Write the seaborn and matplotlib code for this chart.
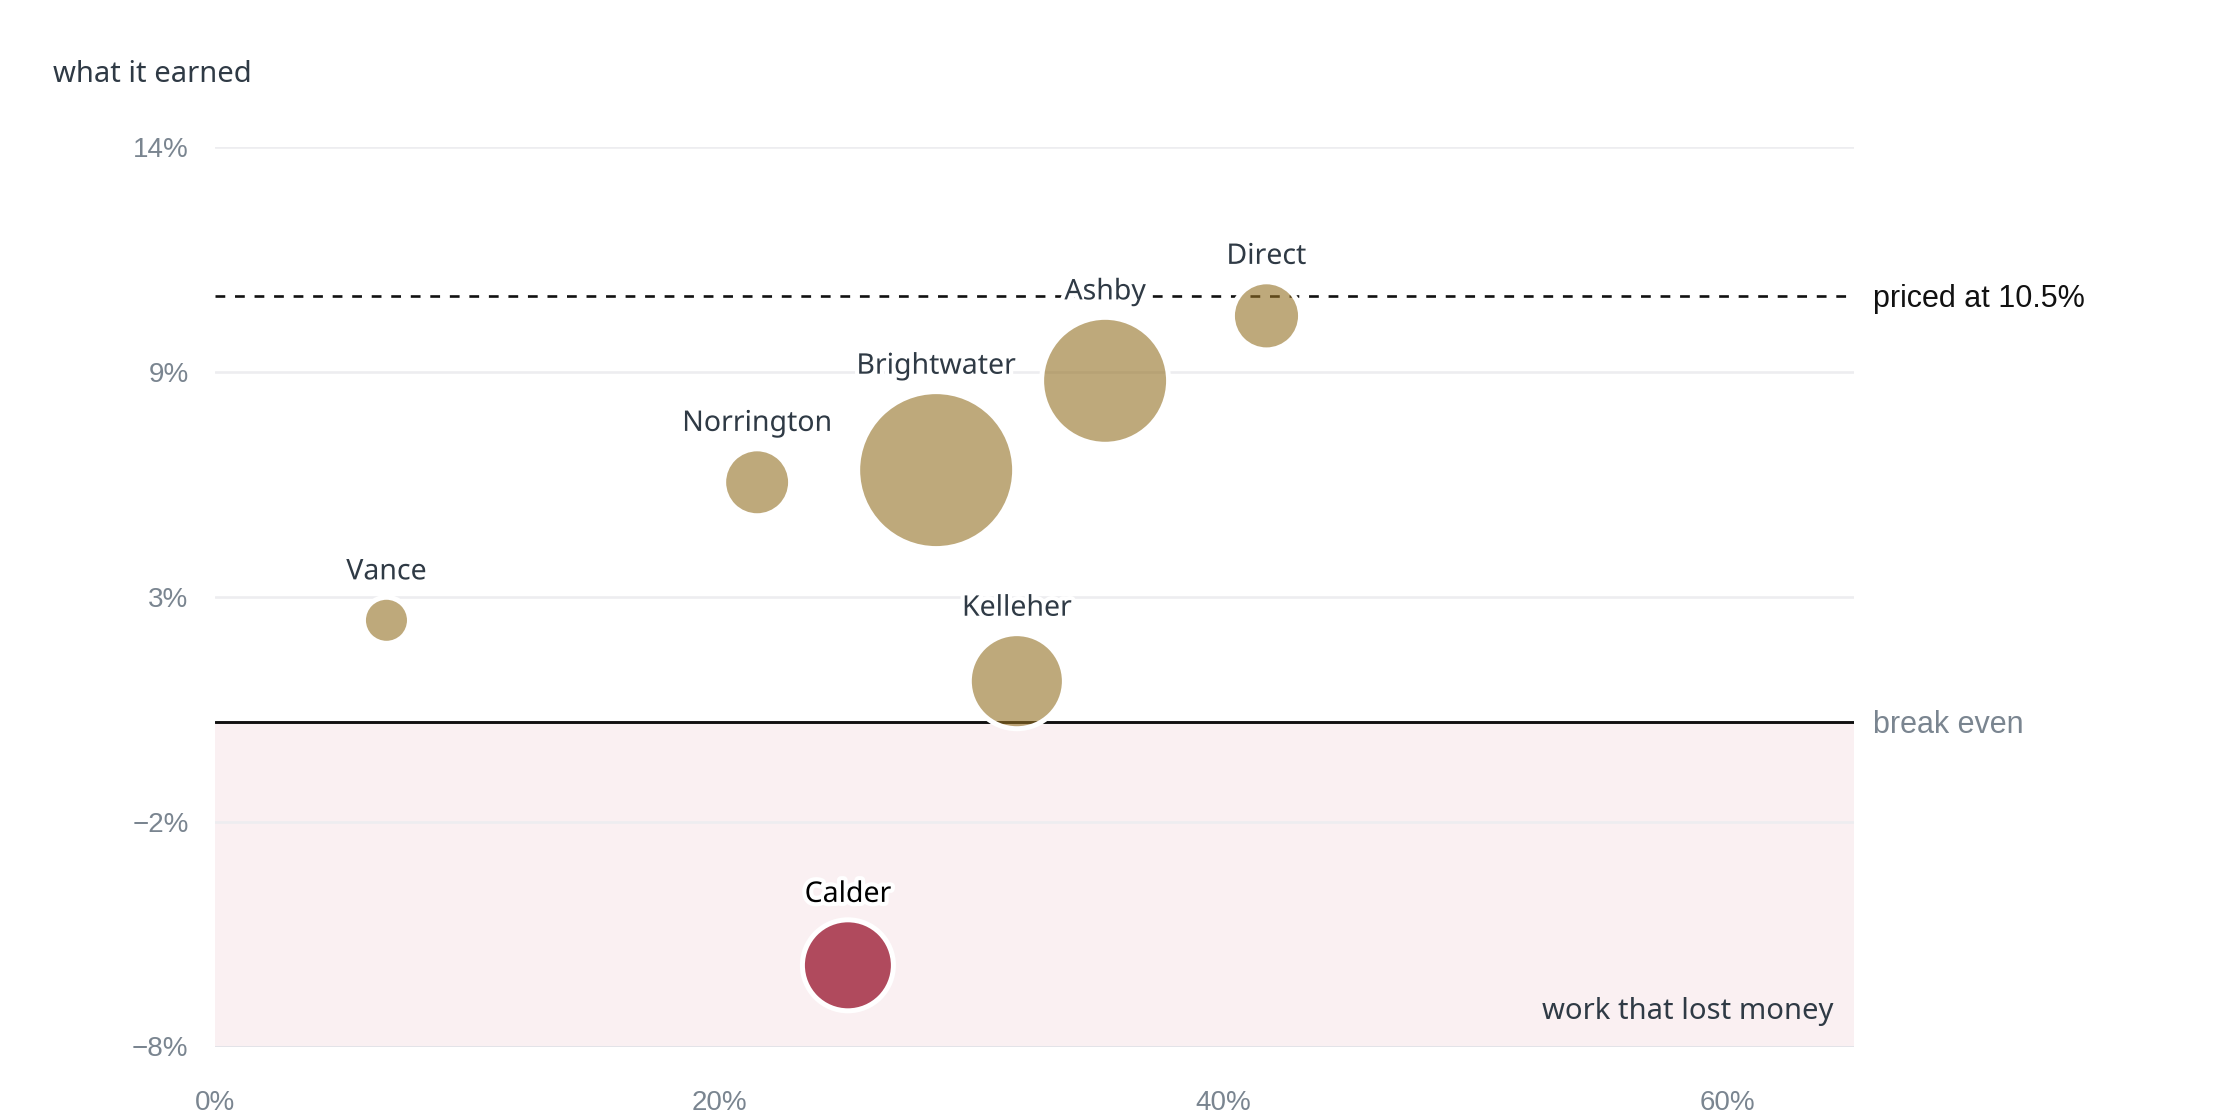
import numpy as np
import pandas as pd
import matplotlib
matplotlib.use("Agg")
import matplotlib.pyplot as plt
import matplotlib.transforms as mtransforms
from matplotlib import patheffects as pe
import seaborn as sns

# ---- data ----
firms = ["Vance", "Norrington", "Brightwater", "Ashby", "Direct", "Kelleher", "Calder"]
share_pct = [6.8, 21.5, 28.6, 35.3, 41.7, 31.8, 25.1]      # x: share of work
earned_pct = [2.5, 5.9, 6.2, 8.4, 10.0, 1.0, -6.0]          # y: what it earned
volume = [5.3, 11.2, 61.6, 40.3, 11.6, 22.6, 20.7]          # bubble area
priced_at = 10.5
break_even = 0.0

x_ticks = [0, 20, 40, 60]
x_tick_labels = ["0%", "20%", "40%", "60%"]
y_ticks = [-8, -2.46, 3.08, 8.62, 14.16]
y_tick_labels = ["\u22128%", "\u22122%", "3%", "9%", "14%"]

df = pd.DataFrame({"firm": firms, "share": share_pct,
                   "earned": earned_pct, "volume": volume})
df["status"] = np.where(df["earned"] < 0, "lost", "earned")

# ---- style ----
sns.set_theme(style="white")
plt.rcParams["font.family"] = ["Noto Sans", "DejaVu Sans"]

W, H = 2240, 1120
fig = plt.figure(figsize=(W / 100, H / 100), dpi=100)
ax_l, ax_r, ax_t, ax_b = 215, 1854, 147, 1046.5
ax = fig.add_axes([ax_l / W, 1 - ax_b / H, (ax_r - ax_l) / W, (ax_b - ax_t) / H])

ax.set_xlim(0, 65)
ax.set_ylim(y_ticks[0], y_ticks[-1])

# loss band
ax.axhspan(y_ticks[0], break_even, color="#FAF0F2", lw=0, zorder=0)

# grid
ax.set_yticks(y_ticks, y_tick_labels)
ax.set_xticks(x_ticks, x_tick_labels)
ax.yaxis.grid(True, color="#EDEDF0", lw=1.9)
ax.xaxis.grid(False)
ax.set_axisbelow(True)
for sp in ax.spines.values():
    sp.set_visible(False)
ax.axhline(y_ticks[0], color="#E1E1E7", lw=1.9, zorder=1)
tick_font = ["Liberation Sans", "DejaVu Sans"]
ax.tick_params(axis="y", length=0, pad=19, labelsize=20, labelcolor="#7A8590")
ax.tick_params(axis="x", length=0, pad=31, labelsize=20, labelcolor="#7A8590")
for lab in ax.get_xticklabels() + ax.get_yticklabels():
    lab.set_family(tick_font)

# reference lines
ax.axhline(priced_at, color="#111111", lw=1.9, ls=(0, (3.7, 3.7)), zorder=2)
ax.axhline(break_even, color="#111111", lw=2.1, zorder=2)

# bubbles
S_PER_UNIT = 207.36
vmax = max(volume)
edge_lw = 3.6
sns.scatterplot(data=df, x="share", y="earned", hue="status",
                palette={"earned": "#947023", "lost": "#B04A5D"},
                size="volume", sizes=(0, S_PER_UNIT * vmax), size_norm=(0, vmax),
                edgecolor="white", linewidth=edge_lw, legend=False, ax=ax, zorder=4)
coll = ax.collections[-1]
fc = np.array(coll.get_facecolors())
if len(fc) == len(df):
    fc[:, 3] = np.where(df["status"] == "earned", 0.6, 1.0)
    coll.set_facecolors(fc)
ax.set_xlabel("")
ax.set_ylabel("")

# bubble labels
halo = [pe.withStroke(linewidth=6, foreground="white")]
for _, row in df.iterrows():
    r_pt = np.sqrt(S_PER_UNIT * row["volume"]) / 2
    off = r_pt + edge_lw / 2 + 16.5
    lost = row["status"] == "lost"
    ax.annotate(row["firm"], (row["share"], row["earned"]), xytext=(0, off),
                textcoords="offset points", ha="center", va="center",
                fontsize=20.5, color="#000000" if lost else "#2F3A45",
                path_effects=halo, zorder=5)

# right-side annotations
trans = mtransforms.blended_transform_factory(ax.transAxes, ax.transData)
ax.annotate("priced at 10.5%", (1 + 19 / 1640, priced_at), xycoords=trans,
            xytext=(0, -2.5), textcoords="offset points",
            ha="left", va="center", fontsize=22, color="#111111", family=tick_font)
ax.annotate("break even", (1 + 19 / 1640, break_even), xycoords=trans,
            xytext=(0, -2.5), textcoords="offset points",
            ha="left", va="center", fontsize=22, color="#7A8590", family=tick_font)
ax.text(1 - 21 / 1640, 35 / 899, "work that lost money", transform=ax.transAxes,
        ha="right", va="center", fontsize=21, color="#2F3A45")

fig.text(53 / W, 1 - 75 / H, "what it earned", ha="left", va="center",
         fontsize=21, color="#2F3A45")

fig.savefig("out.png", dpi=100, facecolor="white")
